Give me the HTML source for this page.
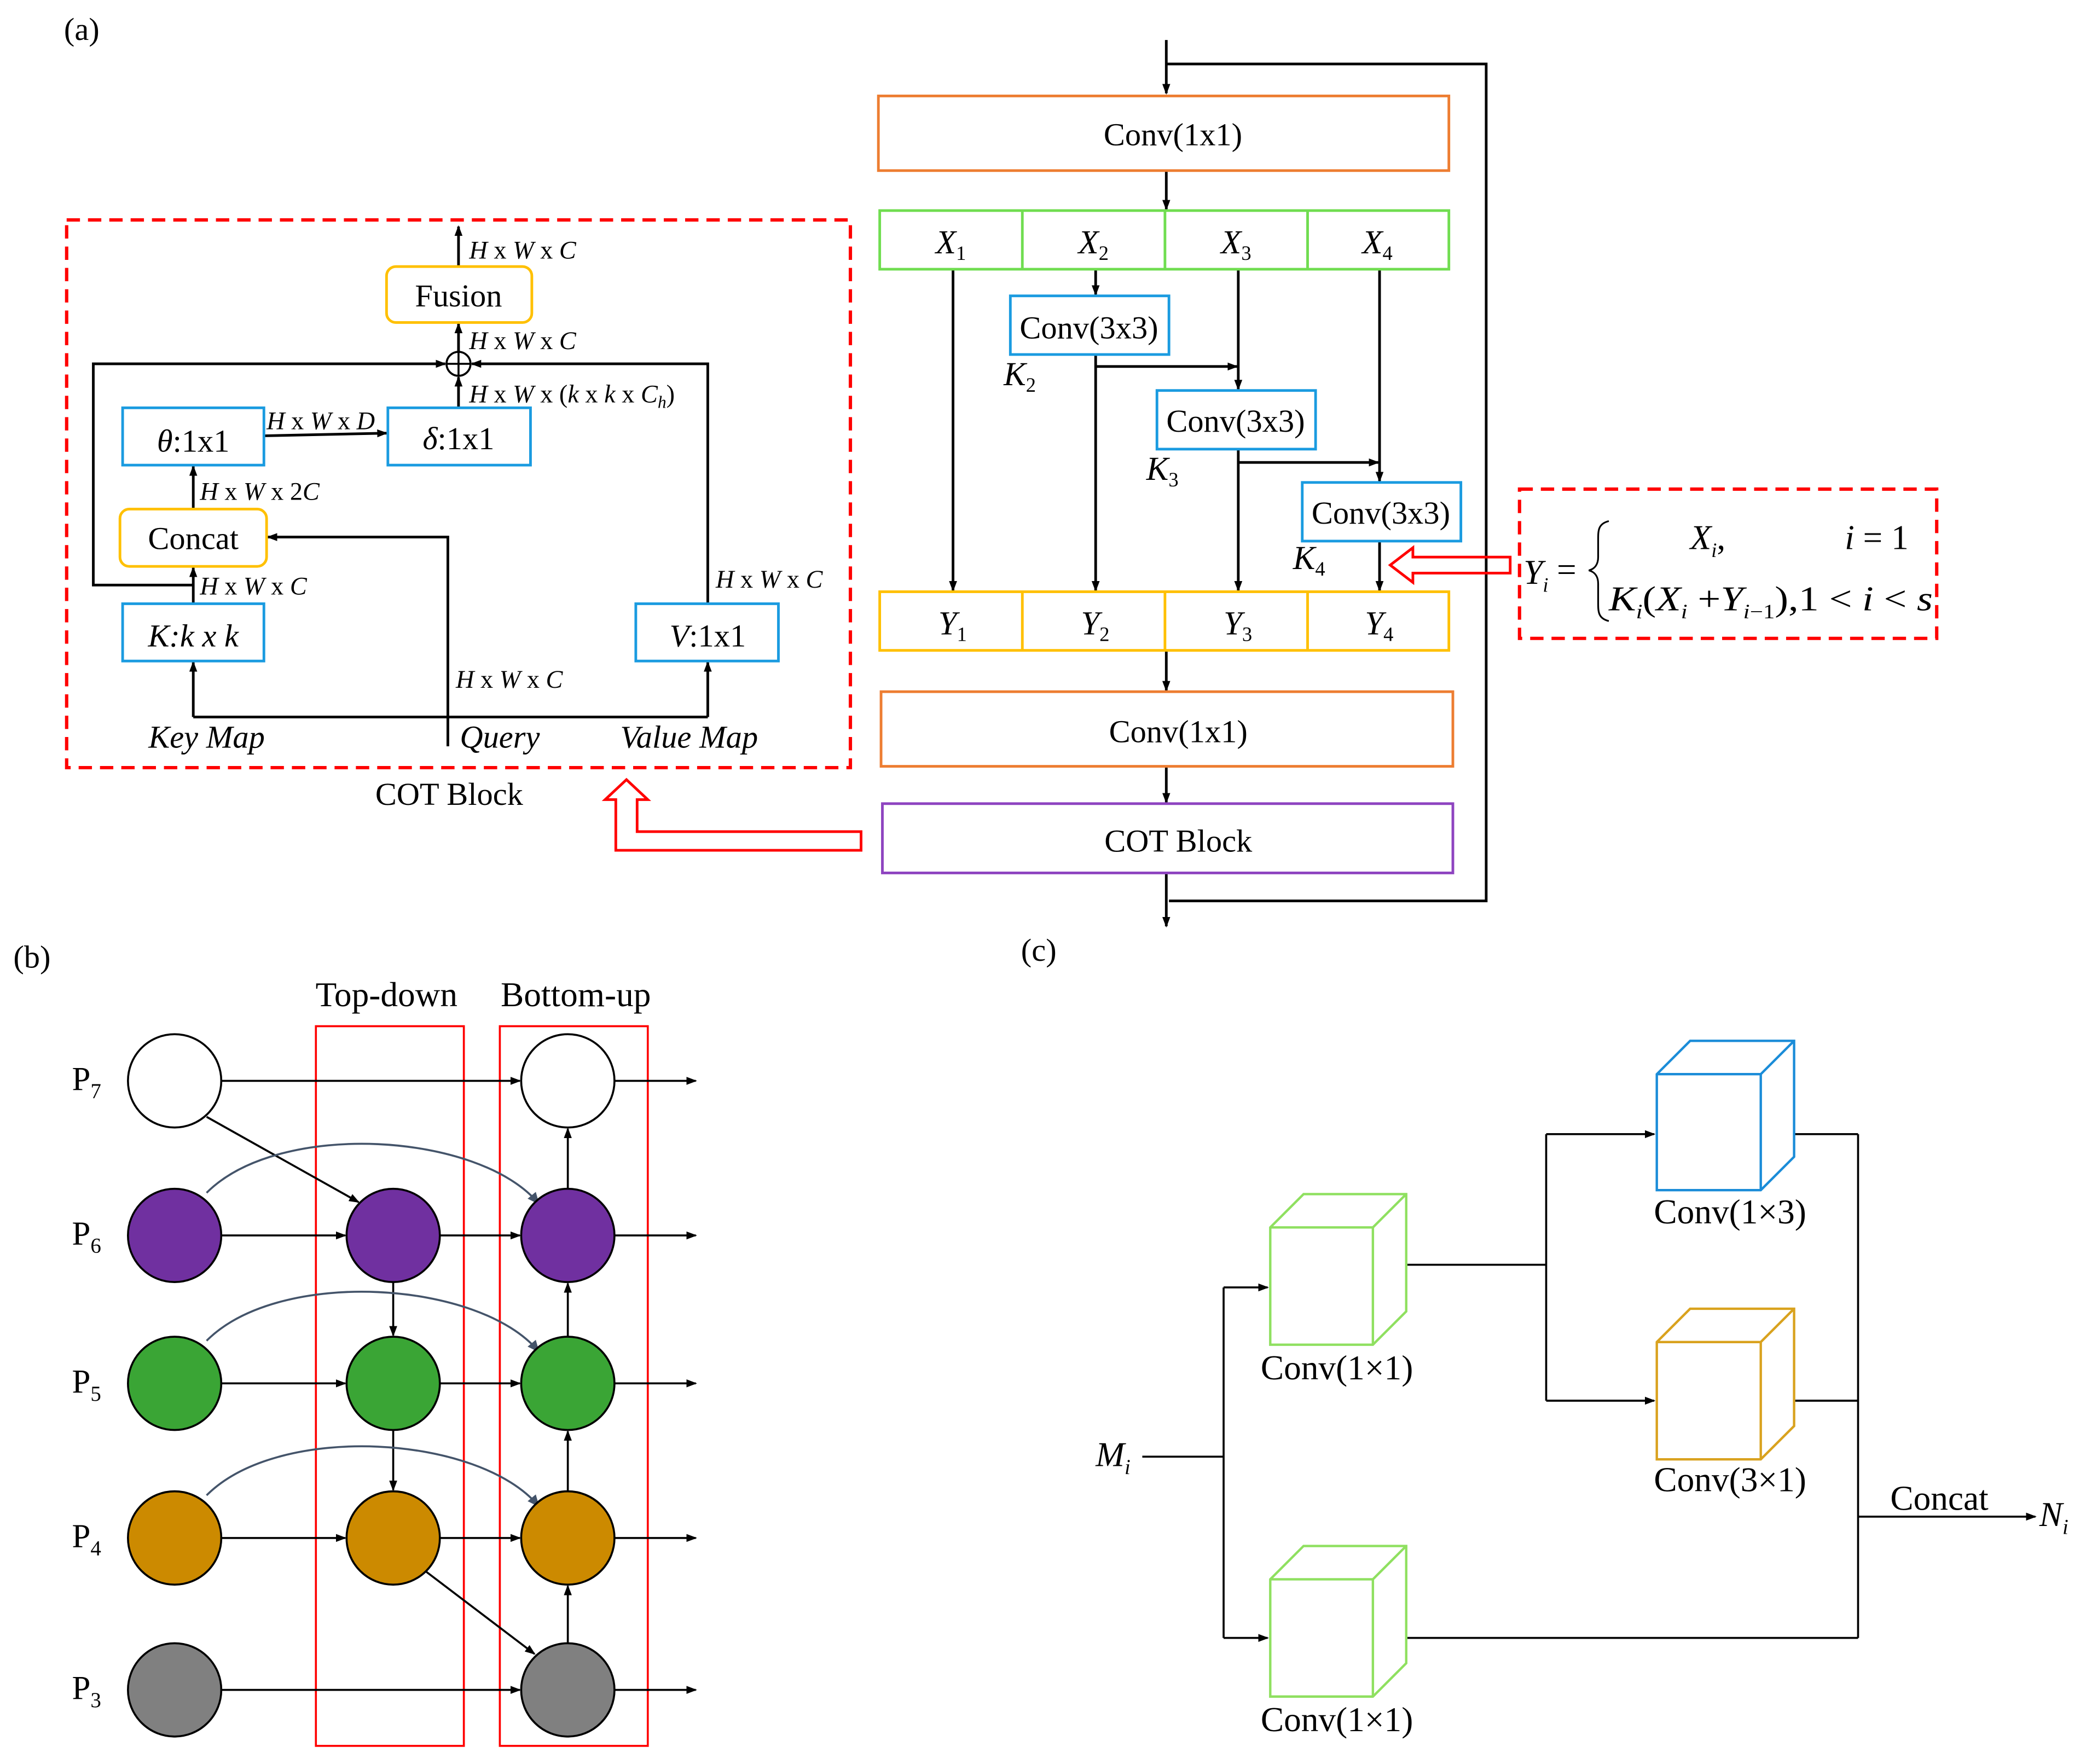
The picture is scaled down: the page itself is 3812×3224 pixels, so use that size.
<!DOCTYPE html>
<html><head><meta charset="utf-8"><style>
html,body{margin:0;padding:0;background:#fff}
svg{display:block}
text{font-family:"Liberation Serif","Times New Roman","DejaVu Serif",serif;fill:#000}
.it{font-style:italic}
</style></head><body>
<svg width="3812" height="3224" viewBox="0 0 1565 1323.6" xmlns="http://www.w3.org/2000/svg" font-family="Liberation Serif, DejaVu Serif, serif">
<defs>
<marker id="a" markerWidth="8" markerHeight="8" refX="7" refY="4" orient="auto" markerUnits="userSpaceOnUse"><path d="M0,1 L8,4 L0,7 z" fill="#000"/></marker>
<marker id="g" markerWidth="10" markerHeight="10" refX="8" refY="5" orient="auto" markerUnits="userSpaceOnUse"><path d="M0,1 L9,5 L0,9 z" fill="#44546a"/></marker>
</defs>
<g stroke="#000" stroke-width="2" fill="none">
<line x1="875" y1="30" x2="875" y2="70" marker-end="url(#a)"/>
<polyline points="875,48 1115,48 1115,676 877,676"/>
<line x1="875" y1="655" x2="875" y2="695" marker-end="url(#a)"/>
<line x1="875" y1="128" x2="875" y2="157" marker-end="url(#a)"/>
<line x1="715" y1="202" x2="715" y2="443" marker-end="url(#a)"/>
<line x1="822" y1="202" x2="822" y2="221" marker-end="url(#a)"/>
<line x1="822" y1="266" x2="822" y2="443" marker-end="url(#a)"/>
<line x1="822" y1="275" x2="928" y2="275" marker-end="url(#a)"/>
<line x1="929" y1="202" x2="929" y2="292" marker-end="url(#a)"/>
<line x1="929" y1="337" x2="929" y2="443" marker-end="url(#a)"/>
<line x1="929" y1="347" x2="1034" y2="347" marker-end="url(#a)"/>
<line x1="1035" y1="202" x2="1035" y2="361" marker-end="url(#a)"/>
<line x1="1035" y1="406" x2="1035" y2="443" marker-end="url(#a)"/>
<line x1="875" y1="488" x2="875" y2="518" marker-end="url(#a)"/>
<line x1="875" y1="575" x2="875" y2="602" marker-end="url(#a)"/>
</g>
<g fill="none" stroke-width="2">
<rect x="659" y="72" width="428" height="56" stroke="#ed7d31"/>
<rect x="660" y="158" width="427" height="44" stroke="#70dd50"/>
<line x1="767" y1="158" x2="767" y2="202" stroke="#70dd50"/>
<line x1="874" y1="158" x2="874" y2="202" stroke="#70dd50"/>
<line x1="981" y1="158" x2="981" y2="202" stroke="#70dd50"/>
<rect x="758" y="222" width="119" height="44" stroke="#1a9be0" fill="#fff"/>
<rect x="868" y="293" width="119" height="44" stroke="#1a9be0" fill="#fff"/>
<rect x="977" y="362" width="119" height="44" stroke="#1a9be0" fill="#fff"/>
<rect x="660" y="444" width="427" height="44" stroke="#ffc000"/>
<line x1="767" y1="444" x2="767" y2="488" stroke="#ffc000"/>
<line x1="874" y1="444" x2="874" y2="488" stroke="#ffc000"/>
<line x1="981" y1="444" x2="981" y2="488" stroke="#ffc000"/>
<rect x="661" y="519" width="429" height="56" stroke="#ed7d31"/>
<rect x="662" y="603" width="428" height="52" stroke="#8e44c0"/>
<rect x="50" y="165" width="588" height="411" stroke="#f00" stroke-dasharray="10,6" stroke-width="2.5"/>
<rect x="1140" y="367" width="313" height="112" stroke="#f00" stroke-dasharray="10,6" stroke-width="2.5"/>
<path d="M646,624 L478,624 L478,600 L486,600 L470,585 L454,600 L462,600 L462,638 L646,638 Z" stroke="#f00"/>
<path d="M1133,418 L1060,418 L1060,411 L1043,424 L1060,437 L1060,430 L1133,430 Z" stroke="#f00"/>
</g>
<g font-size="24" text-anchor="middle">
<text x="880" y="109">Conv(1x1)</text>
<text x="884" y="557">Conv(1x1)</text>
<text x="884" y="639">COT Block</text>
<text x="817" y="254">Conv(3x3)</text>
<text x="927" y="324">Conv(3x3)</text>
<text x="1036" y="393">Conv(3x3)</text>
</g>
<g font-size="25">
<text x="702" y="190" class="it">X<tspan font-size="15" dy="5" font-style="normal">1</tspan></text>
<text x="809" y="190" class="it">X<tspan font-size="15" dy="5" font-style="normal">2</tspan></text>
<text x="916" y="190" class="it">X<tspan font-size="15" dy="5" font-style="normal">3</tspan></text>
<text x="1022" y="190" class="it">X<tspan font-size="15" dy="5" font-style="normal">4</tspan></text>
<text x="704" y="476" class="it">Y<tspan font-size="15" dy="5" font-style="normal">1</tspan></text>
<text x="811" y="476" class="it">Y<tspan font-size="15" dy="5" font-style="normal">2</tspan></text>
<text x="918" y="476" class="it">Y<tspan font-size="15" dy="5" font-style="normal">3</tspan></text>
<text x="1024" y="476" class="it">Y<tspan font-size="15" dy="5" font-style="normal">4</tspan></text>
<text x="753" y="289" class="it">K<tspan font-size="15" dy="5" font-style="normal">2</tspan></text>
<text x="860" y="360" class="it">K<tspan font-size="15" dy="5" font-style="normal">3</tspan></text>
<text x="970" y="427" class="it">K<tspan font-size="15" dy="5" font-style="normal">4</tspan></text>
</g>
<!-- formula -->
<path d="M1207,391 C1199,393 1199,398 1199,405 L1199,418 C1199,424 1196,427 1192,428 C1196,429 1199,432 1199,438 L1199,452 C1199,459 1199,464 1207,466" fill="none" stroke="#000" stroke-width="1.3"/>
<g font-size="26">
<text x="1143" y="438" class="it">Y<tspan font-size="15" dy="6">i</tspan></text>
<text x="1168" y="436">=</text>
<text x="1268" y="412" class="it">X<tspan font-size="15" dy="6">i</tspan><tspan dy="-6" font-style="normal">,</tspan></text>
<text x="1384" y="412"><tspan class="it">i</tspan> = 1</text>
<text x="1207" y="458" textLength="243" lengthAdjust="spacingAndGlyphs"><tspan class="it">K</tspan><tspan font-size="15" dy="6" class="it">i</tspan><tspan dy="-6">(</tspan><tspan class="it">X</tspan><tspan font-size="15" dy="6" class="it">i</tspan><tspan dy="-6"> +</tspan><tspan class="it">Y</tspan><tspan font-size="15" dy="6" class="it">i</tspan><tspan font-size="15">−1</tspan><tspan dy="-6">),1 &lt; </tspan><tspan class="it">i</tspan><tspan> &lt; </tspan><tspan class="it">s</tspan></text>
</g>
<!-- COT block internals -->
<g stroke="#000" stroke-width="2" fill="none">
<line x1="344" y1="200" x2="344" y2="170" marker-end="url(#a)"/>
<line x1="344" y1="264" x2="344" y2="243" marker-end="url(#a)"/>
<circle cx="344" cy="273" r="9" stroke-width="1.5"/>
<line x1="335" y1="273" x2="353" y2="273" stroke-width="1.5"/>
<line x1="344" y1="264" x2="344" y2="282" stroke-width="1.5"/>
<line x1="344" y1="306" x2="344" y2="283" marker-end="url(#a)"/>
<line x1="198" y1="327" x2="290" y2="325" marker-end="url(#a)"/>
<line x1="145" y1="382" x2="145" y2="350" marker-end="url(#a)"/>
<line x1="145" y1="453" x2="145" y2="426" marker-end="url(#a)"/>
<polyline points="145,439 70,439 70,273 334,273" marker-end="url(#a)"/>
<polyline points="531,453 531,273 354,273" marker-end="url(#a)"/>
<polyline points="336,560 336,403 201,403" marker-end="url(#a)"/>
<line x1="145" y1="538" x2="531" y2="538"/>
<line x1="145" y1="538" x2="145" y2="497" marker-end="url(#a)"/>
<line x1="531" y1="538" x2="531" y2="497" marker-end="url(#a)"/>
</g>
<g stroke-width="2" fill="#fff">
<rect x="290" y="200" width="109" height="42" rx="7" stroke="#ffc000"/>
<rect x="291" y="306" width="107" height="43" stroke="#1a9be0"/>
<rect x="92" y="306" width="106" height="43" stroke="#1a9be0"/>
<rect x="90" y="382" width="110" height="43" rx="7" stroke="#ffc000"/>
<rect x="92" y="453" width="106" height="43" stroke="#1a9be0"/>
<rect x="477" y="453" width="107" height="43" stroke="#1a9be0"/>
</g>
<g font-size="24" text-anchor="middle">
<text x="344" y="230">Fusion</text>
<text x="344" y="337"><tspan class="it">δ</tspan>:1x1</text>
<text x="145" y="339"><tspan class="it">θ</tspan>:1x1</text>
<text x="145" y="412">Concat</text>
<text x="145" y="485" class="it">K:k x k</text>
<text x="531" y="485"><tspan class="it">V</tspan>:1x1</text>
<text x="337" y="604">COT Block</text>
<text x="155" y="561" class="it">Key Map</text>
<text x="375" y="561" class="it">Query</text>
<text x="517" y="561" class="it">Value Map</text>
</g>
<g font-size="19" class="it">
<text x="352" y="194">H <tspan font-style="normal">x</tspan> W <tspan font-style="normal">x</tspan> C</text>
<text x="352" y="262">H <tspan font-style="normal">x</tspan> W <tspan font-style="normal">x</tspan> C</text>
<text x="352" y="302">H <tspan font-style="normal">x</tspan> W <tspan font-style="normal">x (</tspan>k <tspan font-style="normal">x</tspan> k <tspan font-style="normal">x</tspan> C<tspan font-size="13" dy="4">h</tspan><tspan dy="-4" font-style="normal">)</tspan></text>
<text x="200" y="322">H <tspan font-style="normal">x</tspan> W <tspan font-style="normal">x</tspan> D</text>
<text x="150" y="375">H <tspan font-style="normal">x</tspan> W <tspan font-style="normal">x 2</tspan>C</text>
<text x="150" y="446">H <tspan font-style="normal">x</tspan> W <tspan font-style="normal">x</tspan> C</text>
<text x="537" y="441">H <tspan font-style="normal">x</tspan> W <tspan font-style="normal">x</tspan> C</text>
<text x="342" y="516">H <tspan font-style="normal">x</tspan> W <tspan font-style="normal">x</tspan> C</text>
</g>
<g font-size="24">
<text x="48" y="30">(a)</text>
<text x="10" y="726">(b)</text>
<text x="766" y="721">(c)</text>
<text x="290" y="755" text-anchor="middle" font-size="26">Top-down</text>
<text x="432" y="755" text-anchor="middle" font-size="26">Bottom-up</text>
</g>
<!-- (b) -->
<g fill="none" stroke="#f00" stroke-width="1.5">
<rect x="237" y="770" width="111" height="540"/>
<rect x="375" y="770" width="111" height="540"/>
</g>
<g stroke="#000" stroke-width="1.5" fill="none">
<line x1="166" y1="811" x2="390" y2="811" marker-end="url(#a)"/>
<line x1="461" y1="811" x2="522" y2="811" marker-end="url(#a)"/>
<line x1="155" y1="838" x2="269" y2="902" marker-end="url(#a)"/>
<line x1="166" y1="927" x2="259" y2="927" marker-end="url(#a)"/>
<line x1="330" y1="927" x2="390" y2="927" marker-end="url(#a)"/>
<line x1="461" y1="927" x2="522" y2="927" marker-end="url(#a)"/>
<line x1="166" y1="1038" x2="259" y2="1038" marker-end="url(#a)"/>
<line x1="330" y1="1038" x2="390" y2="1038" marker-end="url(#a)"/>
<line x1="461" y1="1038" x2="522" y2="1038" marker-end="url(#a)"/>
<line x1="166" y1="1154" x2="259" y2="1154" marker-end="url(#a)"/>
<line x1="330" y1="1154" x2="390" y2="1154" marker-end="url(#a)"/>
<line x1="461" y1="1154" x2="522" y2="1154" marker-end="url(#a)"/>
<line x1="166" y1="1268" x2="390" y2="1268" marker-end="url(#a)"/>
<line x1="461" y1="1268" x2="522" y2="1268" marker-end="url(#a)"/>
<line x1="295" y1="962" x2="295" y2="1002" marker-end="url(#a)"/>
<line x1="295" y1="1073" x2="295" y2="1118" marker-end="url(#a)"/>
<line x1="426" y1="1233" x2="426" y2="1190" marker-end="url(#a)"/>
<line x1="426" y1="1119" x2="426" y2="1074" marker-end="url(#a)"/>
<line x1="426" y1="1003" x2="426" y2="963" marker-end="url(#a)"/>
<line x1="426" y1="892" x2="426" y2="847" marker-end="url(#a)"/>
<line x1="318" y1="1178" x2="401" y2="1241" marker-end="url(#a)"/>
</g>
<g stroke="#44546a" stroke-width="1.5" fill="none">
<path d="M155,895 C210,840 360,850 404,903" marker-end="url(#g)"/>
<path d="M155,1006 C210,951 360,961 404,1014" marker-end="url(#g)"/>
<path d="M155,1122 C210,1067 360,1077 404,1130" marker-end="url(#g)"/>
</g>
<g stroke="#000" stroke-width="1.5">
<circle cx="131" cy="811" r="35" fill="#fff"/>
<circle cx="426" cy="811" r="35" fill="#fff"/>
<circle cx="131" cy="927" r="35" fill="#7030a0"/>
<circle cx="295" cy="927" r="35" fill="#7030a0"/>
<circle cx="426" cy="927" r="35" fill="#7030a0"/>
<circle cx="131" cy="1038" r="35" fill="#3aa535"/>
<circle cx="295" cy="1038" r="35" fill="#3aa535"/>
<circle cx="426" cy="1038" r="35" fill="#3aa535"/>
<circle cx="131" cy="1154" r="35" fill="#cc8a00"/>
<circle cx="295" cy="1154" r="35" fill="#cc8a00"/>
<circle cx="426" cy="1154" r="35" fill="#cc8a00"/>
<circle cx="131" cy="1268" r="35" fill="#808080"/>
<circle cx="426" cy="1268" r="35" fill="#808080"/>
</g>
<g font-size="25">
<text x="54" y="818">P<tspan font-size="16" dy="6">7</tspan></text>
<text x="54" y="934">P<tspan font-size="16" dy="6">6</tspan></text>
<text x="54" y="1045">P<tspan font-size="16" dy="6">5</tspan></text>
<text x="54" y="1161">P<tspan font-size="16" dy="6">4</tspan></text>
<text x="54" y="1275">P<tspan font-size="16" dy="6">3</tspan></text>
</g>
<!-- (c) -->
<g stroke="#000" stroke-width="1.5" fill="none">
<line x1="857" y1="1093" x2="918" y2="1093"/>
<line x1="918" y1="966" x2="918" y2="1229"/>
<line x1="918" y1="966" x2="951" y2="966" marker-end="url(#a)"/>
<line x1="918" y1="1229" x2="951" y2="1229" marker-end="url(#a)"/>
<line x1="1043" y1="949" x2="1160" y2="949"/>
<line x1="1160" y1="851" x2="1160" y2="1051"/>
<line x1="1160" y1="851" x2="1241" y2="851" marker-end="url(#a)"/>
<line x1="1160" y1="1051" x2="1241" y2="1051" marker-end="url(#a)"/>
<line x1="1338" y1="851" x2="1394" y2="851"/>
<line x1="1338" y1="1051" x2="1394" y2="1051"/>
<line x1="1394" y1="851" x2="1394" y2="1229"/>
<line x1="1043" y1="1229" x2="1394" y2="1229"/>
<line x1="1394" y1="1138" x2="1527" y2="1138" marker-end="url(#a)"/>
</g>
<g fill="#fff" stroke-width="1.8">
<g stroke="#8fe060"><path d="M953,921 L978,896 L1055,896 L1055,984 L1030,1009 L953,1009 Z M953,921 L1030,921 L1055,896 M1030,921 L1030,1009" fill="#fff"/></g>
<g stroke="#8fe060"><path d="M953,1185 L978,1160 L1055,1160 L1055,1248 L1030,1273 L953,1273 Z M953,1185 L1030,1185 L1055,1160 M1030,1185 L1030,1273" fill="#fff"/></g>
<g stroke="#1a8cd8"><path d="M1243,806 L1268,781 L1346,781 L1346,868 L1321,893 L1243,893 Z M1243,806 L1321,806 L1346,781 M1321,806 L1321,893" fill="#fff"/></g>
<g stroke="#d9a21e"><path d="M1243,1007 L1268,982 L1346,982 L1346,1070 L1321,1095 L1243,1095 Z M1243,1007 L1321,1007 L1346,982 M1321,1007 L1321,1095" fill="#fff"/></g>
</g>
<g font-size="26" text-anchor="middle">
<text x="1003" y="1035">Conv(1×1)</text>
<text x="1003" y="1299">Conv(1×1)</text>
<text x="1298" y="918">Conv(1×3)</text>
<text x="1298" y="1119">Conv(3×1)</text>
<text x="1455" y="1133">Concat</text>
</g>
<g font-size="26" class="it">
<text x="822" y="1100">M<tspan font-size="16" dy="6">i</tspan></text>
<text x="1530" y="1145">N<tspan font-size="16" dy="6">i</tspan></text>
</g>
</svg>
</body></html>
